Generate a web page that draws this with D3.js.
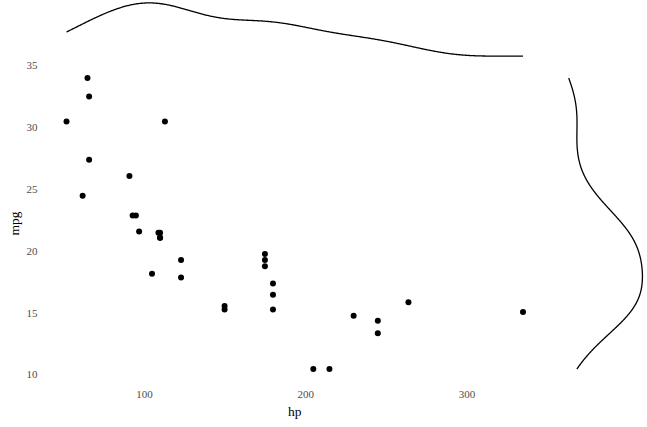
<!DOCTYPE html>
<html>
<head>
<meta charset="utf-8">
<script src="https://cdn.jsdelivr.net/npm/d3@7"></script>
<style>
  html, body { margin: 0; padding: 0; background: #fff; }
  svg { display: block; }
  text { font-family: "Liberation Serif", "DejaVu Serif", serif; }
</style>
</head>
<body>
<svg id="chart" width="647" height="427"></svg>
<script>
// mtcars: horsepower and miles per gallon
const hp  = [110, 110, 93, 110, 175, 105, 245, 62, 95, 123, 123, 180, 180, 180, 205, 215,
             230, 66, 52, 65, 97, 150, 150, 245, 175, 66, 91, 113, 264, 175, 335, 109];
const mpg = [21.0, 21.0, 22.8, 21.4, 18.7, 18.1, 14.3, 24.4, 22.8, 19.2, 17.8, 16.4, 17.3, 15.2, 10.4, 10.4,
             14.7, 32.4, 30.4, 33.9, 21.5, 15.5, 15.2, 13.3, 19.2, 27.3, 26.0, 30.4, 15.8, 19.7, 15.0, 21.4];
const xTicks = [100, 200, 300];
const yTicks = [10, 15, 20, 25, 30, 35];
const xTitle = "hp";
const yTitle = "mpg";

// Gaussian kernel density estimate (R's density() defaults: bw.nrd0, n = 512, over data range)
function quantile7(sorted, p) {
  const h = (sorted.length - 1) * p, lo = Math.floor(h);
  return sorted[lo] + (h - lo) * ((sorted[lo + 1] ?? sorted[lo]) - sorted[lo]);
}
function kde(values) {
  const s = values.slice().sort((a, b) => a - b);
  const n = s.length;
  const sd = d3.deviation(s);
  const iqr = quantile7(s, 0.75) - quantile7(s, 0.25);
  const bw = 0.9 * Math.min(sd, iqr / 1.34) * Math.pow(n, -0.2);
  const lo = s[0], hi = s[n - 1], m = 512;
  const out = [];
  for (let i = 0; i < m; i++) {
    const x = lo + (hi - lo) * i / (m - 1);
    let sum = 0;
    for (const v of s) { const z = (x - v) / bw; sum += Math.exp(-0.5 * z * z); }
    out.push([x, sum / (n * bw * Math.sqrt(2 * Math.PI))]);
  }
  return out;
}

const svg = d3.select("#chart");
const panel = { left: 43.7, right: 545.8, top: 63.5, bottom: 383.6 };

function expand(ext) { const r = ext[1] - ext[0]; return [ext[0] - 0.05 * r, ext[1] + 0.05 * r]; }

const x = d3.scaleLinear().domain(expand(d3.extent(hp))).range([panel.left, panel.right]);
const y = d3.scaleLinear().domain(expand(d3.extent(mpg))).range([panel.bottom, panel.top]);

// axes (tick labels only, Tufte style)
const xAxis = d3.axisBottom(x).tickValues(xTicks).tickSize(0).tickPadding(0);
const gx = svg.append("g").attr("transform", `translate(0,${panel.bottom})`).call(xAxis);
gx.select(".domain").remove();
gx.selectAll("text").attr("y", 14).attr("dy", null)
  .attr("fill", "#4d4d4d").style("font-size", "11px").style("font-family", '"Liberation Serif", serif');

const yAxis = d3.axisLeft(y).tickValues(yTicks).tickSize(0).tickPadding(0);
const gy = svg.append("g").attr("transform", `translate(37.5,0)`).call(yAxis);
gy.select(".domain").remove();
gy.selectAll("text").attr("x", 0).attr("dy", "0.36em")
  .attr("fill", "#4d4d4d").style("font-size", "11px").style("font-family", '"Liberation Serif", serif');

// titles
svg.append("text").attr("x", (panel.left + panel.right) / 2).attr("y", 415.5)
  .attr("text-anchor", "middle").style("font-size", "13.5px").attr("fill", "#000").text(xTitle);
svg.append("text").attr("transform", `translate(18.5,${(panel.top + panel.bottom) / 2}) rotate(-90)`)
  .attr("text-anchor", "middle").style("font-size", "13.5px").attr("fill", "#000").text(yTitle);

// points
svg.append("g").selectAll("circle").data(hp.map((h, i) => [h, mpg[i]])).join("circle")
  .attr("cx", d => x(d[0])).attr("cy", d => y(d[1])).attr("r", 3).attr("fill", "#000");

// top marginal density (hp)
const dHp = kde(hp);
const maxHp = d3.max(dHp, d => d[1]);
const yTop = d3.scaleLinear().domain([-0.05 * maxHp, 1.05 * maxHp]).range([63.5, 0]);
svg.append("path").datum(dHp).attr("fill", "none").attr("stroke", "#000").attr("stroke-width", 1.3)
  .attr("d", d3.line().x(d => x(d[0])).y(d => yTop(d[1])));

// right marginal density (mpg)
const dMpg = kde(mpg);
const maxMpg = d3.max(dMpg, d => d[1]);
const xRight = d3.scaleLinear().domain([-0.05 * maxMpg, 1.05 * maxMpg]).range([546.5, 647]);
svg.append("path").datum(dMpg).attr("fill", "none").attr("stroke", "#000").attr("stroke-width", 1.3)
  .attr("d", d3.line().x(d => xRight(d[1])).y(d => y(d[0])));
</script>
</body>
</html>
